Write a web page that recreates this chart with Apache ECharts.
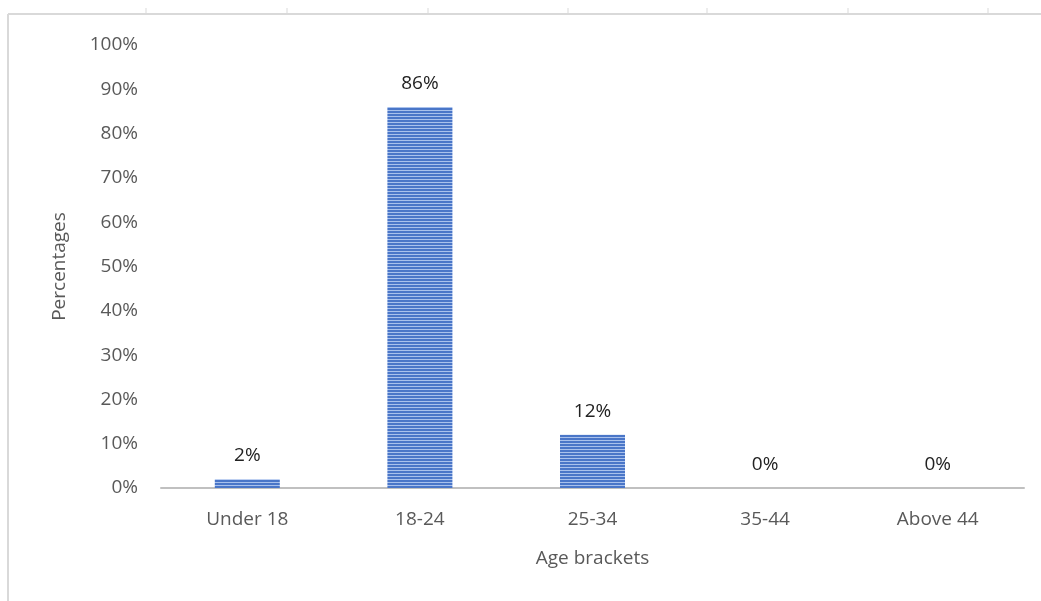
<!DOCTYPE html>
<html>
<head>
<meta charset="utf-8">
<script src="https://cdn.jsdelivr.net/npm/echarts@6/dist/echarts.min.js"></script>
<style>
html, body { margin: 0; padding: 0; background: #fff; }
#chart { width: 1041px; height: 601px; }
</style>
</head>
<body>
<div id="chart"></div>
<script>
// data
var categories = ['Under 18', '18-24', '25-34', '35-44', 'Above 44']
var values = [2, 86, 12, 0, 0]
var yTicks = [0, 10, 20, 30, 40, 50, 60, 70, 80, 90, 100]

// striped fill for the bars
function stripes(){
    var c = document.createElement('canvas')
    c.width = 4
    c.height = 3
    var ctx = c.getContext('2d')
    ctx.fillStyle = '#a9c1ec'
    ctx.fillRect(0, 0, 4, 3)
    ctx.fillStyle = '#4a76c8'
    ctx.fillRect(0, 0, 4, 2)
    return c
}

var chart = echarts.init(document.getElementById('chart'))
var font = 'Open Sans, sans-serif'
chart.setOption({
    animation: false,
    grid: { left: 161, right: 17, top: 45, bottom: 113, containLabel: false },
    xAxis: {
        type: 'category',
        data: categories,
        name: 'Age brackets',
        nameLocation: 'middle',
        nameGap: 61,
        nameTextStyle: { color: '#595959', fontSize: 19, fontFamily: font },
        axisLine: { lineStyle: { color: '#c0c0c0', width: 2 } },
        axisTick: { show: false },
        axisLabel: { color: '#595959', fontSize: 19, fontFamily: font, margin: 22 }
    },
    yAxis: {
        type: 'value',
        min: yTicks[0],
        max: yTicks[yTicks.length - 1],
        interval: 10,
        name: 'Percentages',
        nameLocation: 'middle',
        nameGap: 92,
        nameTextStyle: { color: '#595959', fontSize: 19, fontFamily: font },
        splitLine: { show: false },
        axisLine: { show: false },
        axisTick: { show: false },
        axisLabel: { color: '#595959', fontSize: 19, fontFamily: font, margin: 23,
            formatter: function(v){ return v + '%' } }
    },
    graphic: [
        { type: 'line', shape: { x1: 8, y1: 14, x2: 1041, y2: 14 }, style: { stroke: '#d9d9d9', lineWidth: 2 } },
        { type: 'line', shape: { x1: 8, y1: 14, x2: 8, y2: 601 }, style: { stroke: '#d9d9d9', lineWidth: 2 } },
        { type: 'group', children: [146, 287, 428, 568, 707, 848, 988].map(function(x){
            return { type: 'line', shape: { x1: x, y1: 8, x2: x, y2: 14 }, style: { stroke: '#d9d9d9', lineWidth: 1 } }
        }) }
    ],
    series: [{
        type: 'bar',
        data: values,
        barWidth: 65,
        itemStyle: { color: { image: stripes(), repeat: 'repeat' } },
        label: {
            show: true,
            position: 'top',
            distance: 14,
            color: '#222',
            fontSize: 19,
            fontFamily: font,
            formatter: function(p){ return p.value + '%' }
        }
    }]
})
</script>
</body>
</html>
